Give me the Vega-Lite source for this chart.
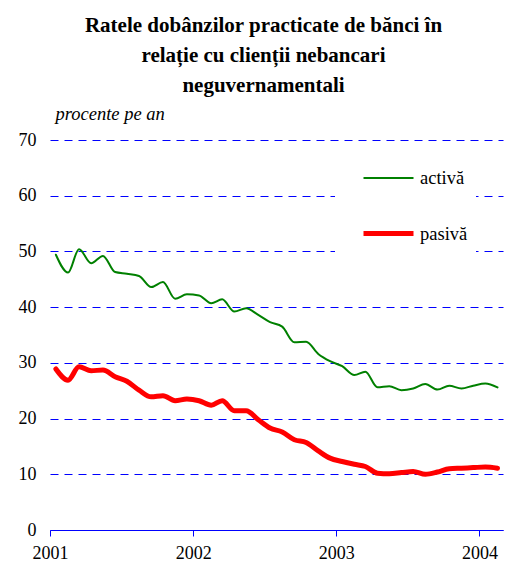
{
  "$schema": "https://vega.github.io/schema/vega-lite/v6.json",
  "autosize": "none",
  "width": 453,
  "height": 390,
  "padding": {"left": 50, "top": 140, "right": 4, "bottom": 33},
  "background": "white",
  "title": {
    "text": ["Ratele dobânzilor practicate de bănci în", "relație cu clienții nebancari", "neguvernamentali"],
    "font": "Liberation Serif",
    "fontSize": 21,
    "fontWeight": "bold",
    "lineHeight": 30,
    "anchor": "middle",
    "offset": 8,
    "dx": -13,
    "color": "black"
  },
  "config": {"view": {"stroke": null}, "font": "Liberation Serif"},
  "data": {
    "values": [
      {"date": "2001-01-16", "series": "activă", "value": 49.4},
      {"date": "2001-02-16", "series": "activă", "value": 46.2},
      {"date": "2001-03-16", "series": "activă", "value": 50.4},
      {"date": "2001-04-16", "series": "activă", "value": 47.9},
      {"date": "2001-05-16", "series": "activă", "value": 49.2},
      {"date": "2001-06-16", "series": "activă", "value": 46.3},
      {"date": "2001-07-16", "series": "activă", "value": 46.0},
      {"date": "2001-08-16", "series": "activă", "value": 45.6},
      {"date": "2001-09-16", "series": "activă", "value": 43.6},
      {"date": "2001-10-16", "series": "activă", "value": 44.5},
      {"date": "2001-11-16", "series": "activă", "value": 41.5},
      {"date": "2001-12-16", "series": "activă", "value": 42.3},
      {"date": "2002-01-16", "series": "activă", "value": 42.1},
      {"date": "2002-02-16", "series": "activă", "value": 40.7},
      {"date": "2002-03-16", "series": "activă", "value": 41.4},
      {"date": "2002-04-16", "series": "activă", "value": 39.2},
      {"date": "2002-05-16", "series": "activă", "value": 39.8},
      {"date": "2002-06-16", "series": "activă", "value": 38.6},
      {"date": "2002-07-16", "series": "activă", "value": 37.3},
      {"date": "2002-08-16", "series": "activă", "value": 36.5},
      {"date": "2002-09-16", "series": "activă", "value": 33.7},
      {"date": "2002-10-16", "series": "activă", "value": 33.8},
      {"date": "2002-11-16", "series": "activă", "value": 31.6},
      {"date": "2002-12-16", "series": "activă", "value": 30.3},
      {"date": "2003-01-16", "series": "activă", "value": 29.4},
      {"date": "2003-02-16", "series": "activă", "value": 27.8},
      {"date": "2003-03-16", "series": "activă", "value": 28.4},
      {"date": "2003-04-16", "series": "activă", "value": 25.6},
      {"date": "2003-05-16", "series": "activă", "value": 25.8},
      {"date": "2003-06-16", "series": "activă", "value": 25.1},
      {"date": "2003-07-16", "series": "activă", "value": 25.4},
      {"date": "2003-08-16", "series": "activă", "value": 26.2},
      {"date": "2003-09-16", "series": "activă", "value": 25.2},
      {"date": "2003-10-16", "series": "activă", "value": 25.9},
      {"date": "2003-11-16", "series": "activă", "value": 25.4},
      {"date": "2003-12-16", "series": "activă", "value": 25.9},
      {"date": "2004-01-16", "series": "activă", "value": 26.3},
      {"date": "2004-02-16", "series": "activă", "value": 25.6},
      {"date": "2001-01-16", "series": "pasivă", "value": 28.9},
      {"date": "2001-02-16", "series": "pasivă", "value": 26.9},
      {"date": "2001-03-16", "series": "pasivă", "value": 29.3},
      {"date": "2001-04-16", "series": "pasivă", "value": 28.6},
      {"date": "2001-05-16", "series": "pasivă", "value": 28.7},
      {"date": "2001-06-16", "series": "pasivă", "value": 27.5},
      {"date": "2001-07-16", "series": "pasivă", "value": 26.7},
      {"date": "2001-08-16", "series": "pasivă", "value": 25.1},
      {"date": "2001-09-16", "series": "pasivă", "value": 23.9},
      {"date": "2001-10-16", "series": "pasivă", "value": 24.1},
      {"date": "2001-11-16", "series": "pasivă", "value": 23.2},
      {"date": "2001-12-16", "series": "pasivă", "value": 23.5},
      {"date": "2002-01-16", "series": "pasivă", "value": 23.2},
      {"date": "2002-02-16", "series": "pasivă", "value": 22.4},
      {"date": "2002-03-16", "series": "pasivă", "value": 23.2},
      {"date": "2002-04-16", "series": "pasivă", "value": 21.4},
      {"date": "2002-05-16", "series": "pasivă", "value": 21.4},
      {"date": "2002-06-16", "series": "pasivă", "value": 19.8},
      {"date": "2002-07-16", "series": "pasivă", "value": 18.3},
      {"date": "2002-08-16", "series": "pasivă", "value": 17.6},
      {"date": "2002-09-16", "series": "pasivă", "value": 16.2},
      {"date": "2002-10-16", "series": "pasivă", "value": 15.7},
      {"date": "2002-11-16", "series": "pasivă", "value": 14.2},
      {"date": "2002-12-16", "series": "pasivă", "value": 12.9},
      {"date": "2003-01-16", "series": "pasivă", "value": 12.3},
      {"date": "2003-02-16", "series": "pasivă", "value": 11.8},
      {"date": "2003-03-16", "series": "pasivă", "value": 11.4},
      {"date": "2003-04-16", "series": "pasivă", "value": 10.2},
      {"date": "2003-05-16", "series": "pasivă", "value": 10.1},
      {"date": "2003-06-16", "series": "pasivă", "value": 10.3},
      {"date": "2003-07-16", "series": "pasivă", "value": 10.5},
      {"date": "2003-08-16", "series": "pasivă", "value": 10.0},
      {"date": "2003-09-16", "series": "pasivă", "value": 10.4},
      {"date": "2003-10-16", "series": "pasivă", "value": 11.0},
      {"date": "2003-11-16", "series": "pasivă", "value": 11.1},
      {"date": "2003-12-16", "series": "pasivă", "value": 11.2},
      {"date": "2004-01-16", "series": "pasivă", "value": 11.3},
      {"date": "2004-02-16", "series": "pasivă", "value": 11.1}
    ]
  },
  "mark": {"type": "line", "interpolate": "monotone", "strokeCap": "round", "strokeJoin": "round"},
  "encoding": {
    "x": {
      "field": "date",
      "type": "temporal",
      "scale": {"type": "utc", "domain": ["2001-01-01", "2004-03-01"]},
      "axis": {
        "title": null,
        "values": [
          {"year": 2001, "utc": true},
          {"year": 2002, "utc": true},
          {"year": 2003, "utc": true},
          {"year": 2004, "utc": true}
        ],
        "format": "%Y",
        "formatType": "utc",
        "grid": false,
        "domainColor": "#0000ff",
        "domainWidth": 1,
        "tickColor": "#0000ff",
        "tickSize": 6,
        "tickOffset": 0,
        "labelFont": "Liberation Serif",
        "labelFontSize": 18,
        "labelColor": "black",
        "labelPadding": 8,
        "labelDx": 5,
        "labelFlush": false,
        "labelOverlap": false
      }
    },
    "y": {
      "field": "value",
      "type": "quantitative",
      "scale": {"domain": [0, 70], "nice": false},
      "axis": {
        "title": "procente pe an",
        "titleAngle": 0,
        "titleAlign": "left",
        "titleBaseline": "alphabetic",
        "titleX": 5,
        "titleY": -21,
        "titleFont": "Liberation Serif",
        "titleFontStyle": "italic",
        "titleFontWeight": "normal",
        "titleFontSize": 18.5,
        "titleColor": "black",
        "values": [0, 10, 20, 30, 40, 50, 60, 70],
        "grid": true,
        "gridColor": "#0000ff",
        "gridDash": [8, 6],
        "gridWidth": 1,
        "domain": false,
        "ticks": false,
        "labelFont": "Liberation Serif",
        "labelFontSize": 18,
        "labelColor": "black",
        "labelPadding": 14
      }
    },
    "color": {
      "field": "series",
      "type": "nominal",
      "scale": {"domain": ["activă", "pasivă"], "range": ["#008000", "#ff0000"]},
      "legend": {
        "title": null,
        "orient": "none",
        "legendX": 285,
        "legendY": 4,
        "fillColor": "white",
        "padding": 8,
        "symbolType": "stroke",
        "symbolSize": 2500,
        "symbolOffset": 18,
        "labelOffset": 4,
        "labelFont": "Liberation Serif",
        "labelFontSize": 18.5,
        "labelColor": "black",
        "rowPadding": 18,
        "labelExpr": "datum.label + '\u00a0\u00a0\u00a0\u00a0\u00a0'"
      }
    },
    "strokeWidth": {
      "field": "series",
      "type": "nominal",
      "scale": {"domain": ["activă", "pasivă"], "range": [2, 5]}
    }
  }
}
